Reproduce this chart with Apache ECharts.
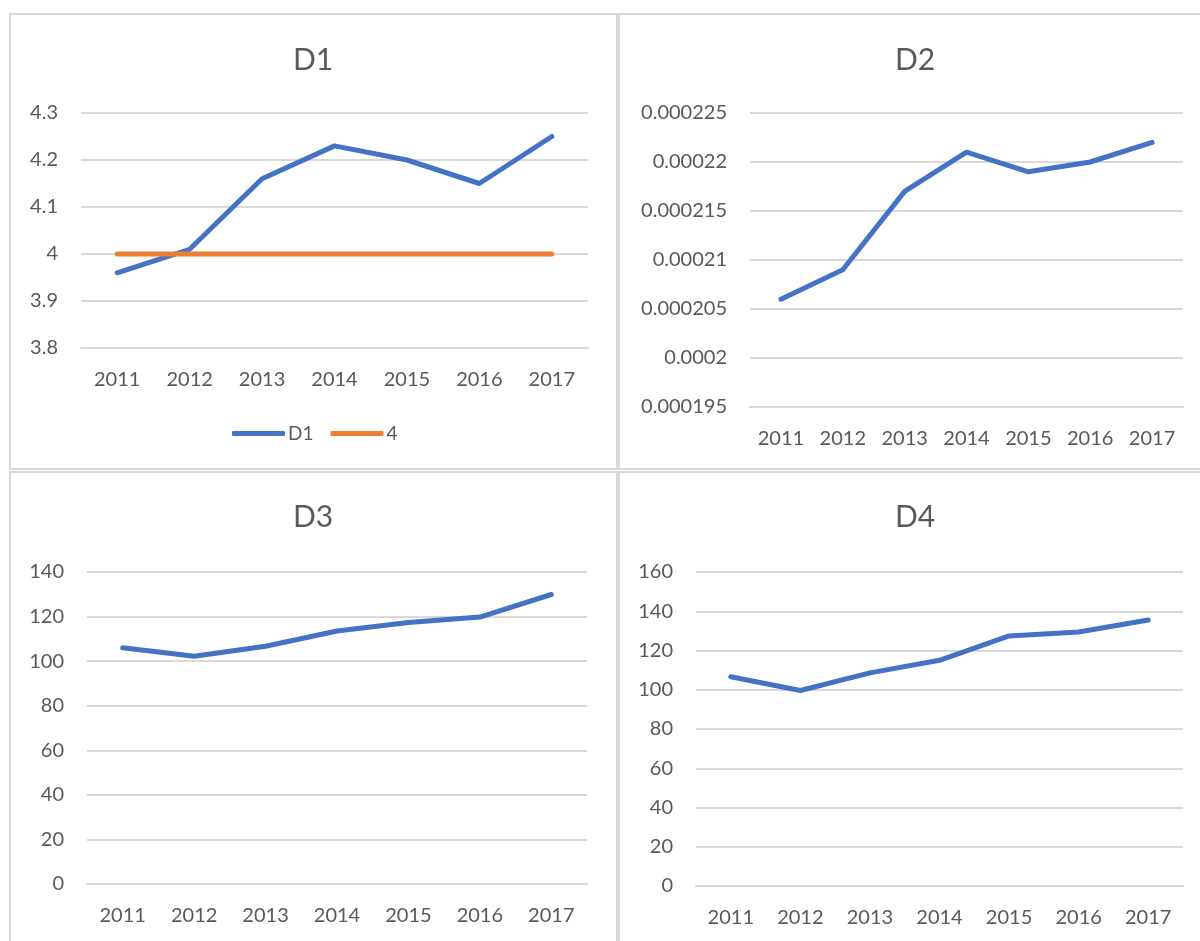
<!DOCTYPE html>
<html>
<head>
<meta charset="utf-8">
<script src="https://cdn.jsdelivr.net/npm/echarts@6/dist/echarts.min.js"></script>
<style>
html,body{margin:0;padding:0;background:#fff;}
#chart{width:1200px;height:941px;}
</style>
</head>
<body>
<div id="chart"></div>
<script>
const years = ['2011','2012','2013','2014','2015','2016','2017'];
const d1Values = [3.96, 4.01, 4.16, 4.23, 4.20, 4.15, 4.25];
const d1Reference = [4, 4, 4, 4, 4, 4, 4];
const d2Values = [0.000206, 0.000209, 0.000217, 0.000221, 0.000219, 0.000220, 0.000222];
const d3Values = [106, 102.2, 106.7, 113.5, 117.3, 119.8, 129.9];
const d4Values = [106.6, 99.6, 108.6, 115, 127.4, 129.4, 135.5];
const titles = ['D1', 'D2', 'D3', 'D4'];
const legendNames = ['D1', '4'];

const FONT = 'Lato';
const TXT = '#595959';
const GRID = '#d9d9d9';
const BLUE = '#4472C4';
const ORANGE = '#ED7D31';

const grids = [
  {left: 81, top: 113, width: 507, height: 235},
  {left: 750, top: 113, width: 433, height: 294},
  {left: 87, top: 572, width: 500, height: 312},
  {left: 696, top: 572, width: 487, height: 314}
];
const yRanges = [
  {min: 3.8, max: 4.3, interval: 0.1},
  {min: 0.000195, max: 0.000225, interval: 0.000005},
  {min: 0, max: 140, interval: 20},
  {min: 0, max: 160, interval: 20}
];
const titlePos = [[313, 45], [915, 45], [313, 502], [915, 502]];

const fmt = v => String(parseFloat(Number(v).toPrecision(6)));

const option = {
  animation: false,
  backgroundColor: '#fff',
  textStyle: {fontFamily: FONT},
  graphic: [
    {type: 'rect', shape: {x: 10, y: 14, width: 607, height: 455}, style: {fill: 'none', stroke: GRID, lineWidth: 2}},
    {type: 'rect', shape: {x: 619, y: 14, width: 600, height: 455}, style: {fill: 'none', stroke: GRID, lineWidth: 2}},
    {type: 'rect', shape: {x: 10, y: 472, width: 607, height: 490}, style: {fill: 'none', stroke: GRID, lineWidth: 2}},
    {type: 'rect', shape: {x: 619, y: 472, width: 600, height: 490}, style: {fill: 'none', stroke: GRID, lineWidth: 2}}
  ],
  title: titles.map((t, i) => ({
    text: t,
    left: titlePos[i][0],
    top: titlePos[i][1],
    textAlign: 'center',
    padding: 0,
    textStyle: {fontFamily: FONT, fontSize: 30, fontWeight: 'normal', color: TXT}
  })),
  legend: {
    data: legendNames,
    left: 232,
    top: 424,
    itemWidth: 53,
    itemHeight: 5,
    itemGap: 17,
    icon: 'roundRect',
    padding: 0,
    textStyle: {fontFamily: FONT, fontSize: 19, color: TXT, padding: [0, 0, 0, -2]}
  },
  grid: grids,
  xAxis: grids.map((g, i) => ({
    type: 'category',
    gridIndex: i,
    data: years,
    boundaryGap: true,
    axisTick: {show: false},
    axisLine: {show: true, lineStyle: {color: GRID, width: 2}},
    axisLabel: {color: TXT, fontFamily: FONT, fontSize: 20, margin: 22}
  })),
  yAxis: grids.map((g, i) => ({
    type: 'value',
    gridIndex: i,
    min: yRanges[i].min,
    max: yRanges[i].max,
    interval: yRanges[i].interval,
    axisLine: {show: false},
    axisTick: {show: false},
    splitLine: {show: true, lineStyle: {color: GRID, width: 2}},
    axisLabel: {color: TXT, fontFamily: FONT, fontSize: 20, margin: 23, formatter: fmt}
  })),
  series: [
    {name: 'D1', type: 'line', xAxisIndex: 0, yAxisIndex: 0, data: d1Values, showSymbol: false, symbol: 'none',
      lineStyle: {color: BLUE, width: 5, cap: 'round', join: 'round'}, itemStyle: {color: BLUE}, z: 3},
    {name: '4', type: 'line', xAxisIndex: 0, yAxisIndex: 0, data: d1Reference, showSymbol: false, symbol: 'none',
      lineStyle: {color: ORANGE, width: 5, cap: 'round', join: 'round'}, itemStyle: {color: ORANGE}, z: 4},
    {name: 'D2', type: 'line', xAxisIndex: 1, yAxisIndex: 1, data: d2Values, showSymbol: false, symbol: 'none',
      lineStyle: {color: BLUE, width: 5, cap: 'round', join: 'round'}, itemStyle: {color: BLUE}},
    {name: 'D3', type: 'line', xAxisIndex: 2, yAxisIndex: 2, data: d3Values, showSymbol: false, symbol: 'none',
      lineStyle: {color: BLUE, width: 5, cap: 'round', join: 'round'}, itemStyle: {color: BLUE}},
    {name: 'D4', type: 'line', xAxisIndex: 3, yAxisIndex: 3, data: d4Values, showSymbol: false, symbol: 'none',
      lineStyle: {color: BLUE, width: 5, cap: 'round', join: 'round'}, itemStyle: {color: BLUE}}
  ]
};

const chart = echarts.init(document.getElementById('chart'), null, {renderer: 'canvas'});
chart.setOption(option);
</script>
</body>
</html>
